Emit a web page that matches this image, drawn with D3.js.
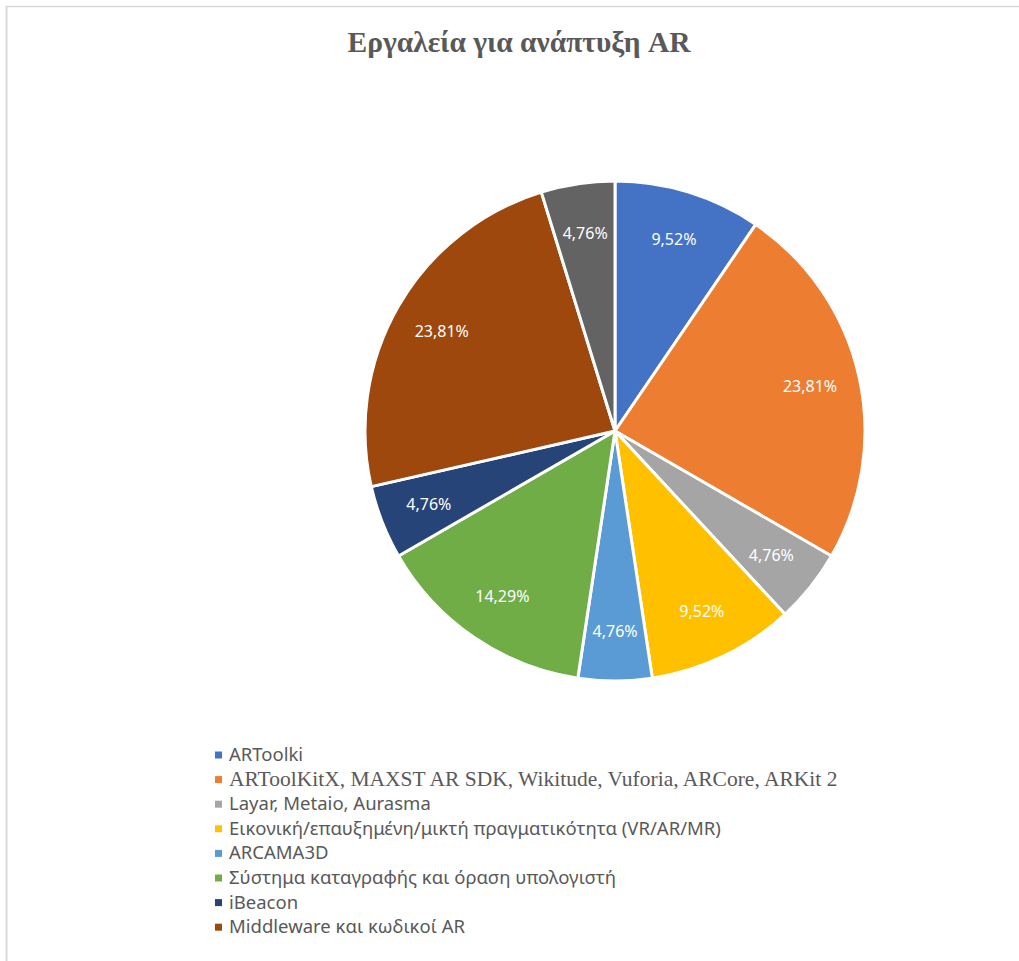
<!DOCTYPE html>
<html>
<head>
<meta charset="utf-8">
<script src="https://cdn.jsdelivr.net/npm/d3@7"></script>
<style>
  body { margin: 0; background: #fff; }
  svg { display: block; }
</style>
</head>
<body>
<div id="chart"></div>
<script>
// slice values (percent), in drawing order clockwise from 12 o'clock
var values = [9.52, 23.81, 4.76, 9.52, 4.76, 14.29, 4.76, 23.81, 4.76];
var categories = [
    "ARToolki",
    "ARToolKitX, MAXST AR SDK, Wikitude, Vuforia, ARCore, ARKit 2",
    "Layar, Metaio, Aurasma",
    "Εικονική/επαυξημένη/μικτή πραγματικότητα (VR/AR/MR)",
    "ARCAMA3D",
    "Σύστημα καταγραφής και όραση υπολογιστή",
    "iBeacon",
    "Middleware και κωδικοί AR",
    "" // last grey slice has no legend entry
];
var colors = ["#4472C4", "#ED7D31", "#A5A5A5", "#FFC000", "#5B9BD5",
              "#70AD47", "#264478", "#9E480E", "#636363"];
var serifItems = [1]; // legend rows set in Times

var width = 1019, height = 961;
var cx = 615, cy = 431, radius = 250;

var svg = d3.select("#chart").append("svg")
    .attr("width", width)
    .attr("height", height);

// chart frame (only left and top edges are visible)
svg.append("line").attr("x1", 6.5).attr("y1", 6).attr("x2", 6.5).attr("y2", height)
    .attr("stroke", "#d9d9d9").attr("stroke-width", 2);
svg.append("line").attr("x1", 6).attr("y1", 6.5).attr("x2", width).attr("y2", 6.5)
    .attr("stroke", "#d9d9d9").attr("stroke-width", 1.5);

// title
svg.append("text")
    .attr("x", 519)
    .attr("y", 52)
    .attr("text-anchor", "middle")
    .style("font-family", "'Liberation Serif', 'Times New Roman', serif")
    .style("font-weight", "bold")
    .style("font-size", "29.5px")
    .style("fill", "#595959")
    .text("Εργαλεία για ανάπτυξη AR");

var color = d3.scaleOrdinal().domain(d3.range(values.length)).range(colors);

var pie = d3.pie().sort(null).value(function (d) { return d; });
var arc = d3.arc().innerRadius(0).outerRadius(radius);
var labelArc = d3.arc().innerRadius(radius * 0.8).outerRadius(radius * 0.8);

var g = svg.append("g").attr("transform", "translate(" + cx + "," + cy + ")");

var arcs = g.selectAll(".arc")
    .data(pie(values))
    .enter()
    .append("g")
    .attr("class", "arc");

arcs.append("path")
    .attr("d", arc)
    .attr("fill", function (d, i) { return color(i); })
    .attr("stroke", "#fff")
    .attr("stroke-width", 3)
    .attr("stroke-linejoin", "round");

arcs.append("text")
    .attr("transform", function (d) { return "translate(" + labelArc.centroid(d) + ")"; })
    .attr("text-anchor", "middle")
    .attr("dy", "0.35em")
    .style("font-family", "'Noto Sans', 'Open Sans', sans-serif")
    .style("font-size", "16px")
    .style("fill", "#fff")
    .text(function (d) { return d.data.toFixed(2).replace(".", ",") + "%"; });

// legend
var legendItems = categories.map(function (c, i) { return { name: c, i: i }; })
    .filter(function (d) { return d.name !== ""; });

var legend = svg.append("g").attr("transform", "translate(215,755)");
var rows = legend.selectAll(".row")
    .data(legendItems)
    .enter()
    .append("g")
    .attr("class", "row")
    .attr("transform", function (d, k) { return "translate(0," + (k * 24.6) + ")"; });

rows.append("rect")
    .attr("x", 0).attr("y", -3.5)
    .attr("width", 7).attr("height", 7)
    .attr("fill", function (d) { return color(d.i); });

rows.append("text")
    .attr("x", 14)
    .attr("y", 6)
    .style("font-family", function (d) {
        return serifItems.indexOf(d.i) >= 0 ? "'Liberation Serif', 'Times New Roman', serif" : "'Noto Sans', 'Open Sans', sans-serif";
    })
    .style("font-size", function (d) { return serifItems.indexOf(d.i) >= 0 ? "21.5px" : "18.5px"; })
    .style("fill", "#595959")
    .text(function (d) { return d.name; });
</script>
</body>
</html>
